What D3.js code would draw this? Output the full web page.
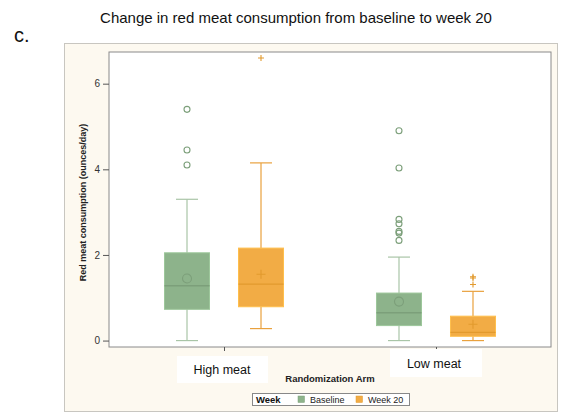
<!DOCTYPE html>
<html>
<head>
<meta charset="utf-8">
<script src="https://cdn.jsdelivr.net/npm/d3@7"></script>
<style>
  body { margin: 0; background: #fff; }
  text { font-family: "Liberation Sans", Arial, sans-serif; }
</style>
</head>
<body>
<div id="chart"></div>
<script>
// Data
const arms = ["High meat", "Low meat"];
const weeks = ["Baseline", "Week 20"];
// box stats per arm, in week order: [whiskerLow, q1, median, q3, whiskerHigh, mean]
const highMeatStats = [[0.0, 0.73, 1.28, 2.05, 3.30, 1.45], [0.28, 0.79, 1.32, 2.16, 4.15, 1.55]];
const lowMeatStats = [[0.0, 0.35, 0.65, 1.11, 1.95, 0.91], [0.0, 0.10, 0.19, 0.57, 1.15, 0.38]];
const highMeatOutliers = [[5.40, 4.45, 4.10], [6.60]];
const lowMeatOutliers = [[4.90, 4.03, 2.83, 2.73, 2.55, 2.51, 2.34], [1.49, 1.46, 1.31]];
const yTicks = [0, 2, 4, 6];

const width = 561, height = 414;

const svg = d3.select("#chart").append("svg")
    .attr("width", width)
    .attr("height", height);

// Outer beige panel
svg.append("rect")
    .attr("x", 64.5).attr("y", 43.5)
    .attr("width", 493).attr("height", 368)
    .attr("fill", "#fdf9f0")
    .attr("stroke", "#c8c6c0");

// Plot area
const x0 = 109, x1 = 551, yTop = 52, yBot = 347;
svg.append("rect")
    .attr("x", x0).attr("y", yTop)
    .attr("width", x1 - x0).attr("height", yBot - yTop)
    .attr("fill", "#fff")
    .attr("stroke", "#8a8a8a");

const x = d3.scalePoint().domain(arms).range([x0, x1]).padding(0.5425);
const xSub = d3.scalePoint().domain(weeks).range([-37, 37]);
const y = d3.scaleLinear().domain([-0.15, 6.74]).range([yBot, yTop]);

const color = d3.scaleOrdinal().domain(weeks).range(["#8db38b", "#f2ac45"]);
const edge = d3.scaleOrdinal().domain(weeks).range(["#7c9f7a", "#e29a2e"]);
const line = d3.scaleOrdinal().domain(weeks).range(["#a9c5a7", "#e9a13d"]);

// Axes
const yAxis = d3.axisLeft(y).tickValues(yTicks).tickSize(6).tickPadding(3)
    .tickFormat(d3.format("d"));
const gy = svg.append("g").attr("transform", `translate(${x0},0)`).call(yAxis);
gy.select(".domain").remove();
gy.selectAll(".tick line").attr("stroke", "#555");
gy.selectAll(".tick text").attr("fill", "#333")
    .style("font-size", "10px").style("font-family", "'Liberation Sans', Arial, sans-serif");

const xAxis = d3.axisBottom(x).tickSize(4).tickFormat("");
const gx = svg.append("g").attr("transform", `translate(0,${yBot})`).call(xAxis);
gx.select(".domain").remove();
gx.selectAll(".tick line").attr("stroke", "#555");

// Build box records
const boxes = [];
[highMeatStats, lowMeatStats].forEach((stats, i) => {
    stats.forEach((s, j) => {
        boxes.push({
            arm: arms[i], week: weeks[j],
            lo: s[0], q1: s[1], med: s[2], q3: s[3], hi: s[4], mean: s[5],
            outliers: [highMeatOutliers, lowMeatOutliers][i][j]
        });
    });
});

const boxW = 45, capW = 22;
const g = svg.selectAll(".box").data(boxes).enter().append("g")
    .attr("class", "box")
    .attr("transform", d => `translate(${x(d.arm) + xSub(d.week)},0)`);

// whiskers
g.append("line").attr("x1", 0).attr("x2", 0)
    .attr("y1", d => y(d.lo)).attr("y2", d => y(d.q1))
    .attr("stroke", d => line(d.week)).attr("stroke-width", 1.2);
g.append("line").attr("x1", 0).attr("x2", 0)
    .attr("y1", d => y(d.q3)).attr("y2", d => y(d.hi))
    .attr("stroke", d => line(d.week)).attr("stroke-width", 1.2);
g.append("line").attr("x1", -capW / 2).attr("x2", capW / 2)
    .attr("y1", d => y(d.lo)).attr("y2", d => y(d.lo))
    .attr("stroke", d => line(d.week)).attr("stroke-width", 1.2);
g.append("line").attr("x1", -capW / 2).attr("x2", capW / 2)
    .attr("y1", d => y(d.hi)).attr("y2", d => y(d.hi))
    .attr("stroke", d => line(d.week)).attr("stroke-width", 1.2);

// box
g.append("rect")
    .attr("x", -boxW / 2).attr("width", boxW)
    .attr("y", d => y(d.q3)).attr("height", d => y(d.q1) - y(d.q3))
    .attr("fill", d => color(d.week))
    .attr("stroke", d => d3.color(color(d.week)).brighter(0.3))
    .attr("stroke-width", 1);

// median
g.append("line").attr("x1", -boxW / 2).attr("x2", boxW / 2)
    .attr("y1", d => y(d.med)).attr("y2", d => y(d.med))
    .attr("stroke", d => edge(d.week)).attr("stroke-width", 1.3);

// mean + outlier markers: circle for baseline, plus for week 20
function marker(sel, val, r) {
    sel.each(function (d) {
        const el = d3.select(this);
        if (d.week === "Baseline") {
            el.append("circle").attr("cx", 0).attr("cy", y(val(d))).attr("r", r)
                .attr("fill", "none").attr("stroke", edge(d.week)).attr("stroke-width", 1.1);
        } else {
            el.append("path")
                .attr("d", `M${-r},${y(val(d))}H${r}M0,${y(val(d)) - r}V${y(val(d)) + r}`)
                .attr("stroke", edge(d.week)).attr("stroke-width", 1.1);
        }
    });
}
g.each(function (d) {
    const el = d3.select(this);
    marker(el, () => d.mean, 4.5);
    d.outliers.forEach(v => marker(el, () => v, 3));
});

// Y axis label
svg.append("text")
    .attr("transform", `translate(86,${(yTop + yBot) / 2 + 3}) rotate(-90)`)
    .attr("text-anchor", "middle")
    .style("font-size", "9px").style("font-weight", "bold")
    .attr("fill", "#222")
    .text("Red meat consumption (ounces/day)");

// Category labels on white boxes
const catPos = [{ arm: "High meat", bx: 177, by: 356, bw: 91, bh: 27, ty: 374 },
                { arm: "Low meat", bx: 390, by: 349, bw: 92, bh: 28, ty: 368 }];
catPos.forEach(c => {
    svg.append("rect").attr("x", c.bx).attr("y", c.by)
        .attr("width", c.bw).attr("height", c.bh).attr("fill", "#fff");
    svg.append("text").attr("x", x(c.arm) - 2).attr("y", c.ty)
        .attr("text-anchor", "middle")
        .style("font-size", "12.5px").attr("fill", "#111")
        .text(c.arm);
});

// X axis title
svg.append("text")
    .attr("x", (x0 + x1) / 2).attr("y", 382)
    .attr("text-anchor", "middle")
    .style("font-size", "9.5px").style("font-weight", "bold")
    .attr("fill", "#222")
    .text("Randomization Arm");

// Legend
const legend = svg.append("g");
legend.append("rect").attr("x", 252.5).attr("y", 393.5)
    .attr("width", 157).attr("height", 12)
    .attr("fill", "#fff").attr("stroke", "#888");
legend.append("text").attr("x", 256).attr("y", 403)
    .style("font-size", "9.5px").style("font-weight", "bold").attr("fill", "#111")
    .text("Week");
const legX = { "Baseline": 298, "Week 20": 356 };
weeks.forEach(w => {
    legend.append("rect").attr("x", legX[w]).attr("y", 396)
        .attr("width", 6.5).attr("height", 6.5)
        .attr("fill", color(w)).attr("stroke", edge(w)).attr("stroke-width", 0.5);
    legend.append("text").attr("x", legX[w] + 12).attr("y", 403)
        .style("font-size", "9px").attr("fill", "#222")
        .text(w);
});

// Titles
svg.append("text")
    .attr("x", 296).attr("y", 23)
    .attr("text-anchor", "middle")
    .style("font-size", "15px").attr("fill", "#111")
    .text("Change in red meat consumption from baseline to week 20");
svg.append("text")
    .attr("x", 14).attr("y", 42)
    .style("font-size", "20px").attr("fill", "#111")
    .text("c.");
</script>
</body>
</html>
